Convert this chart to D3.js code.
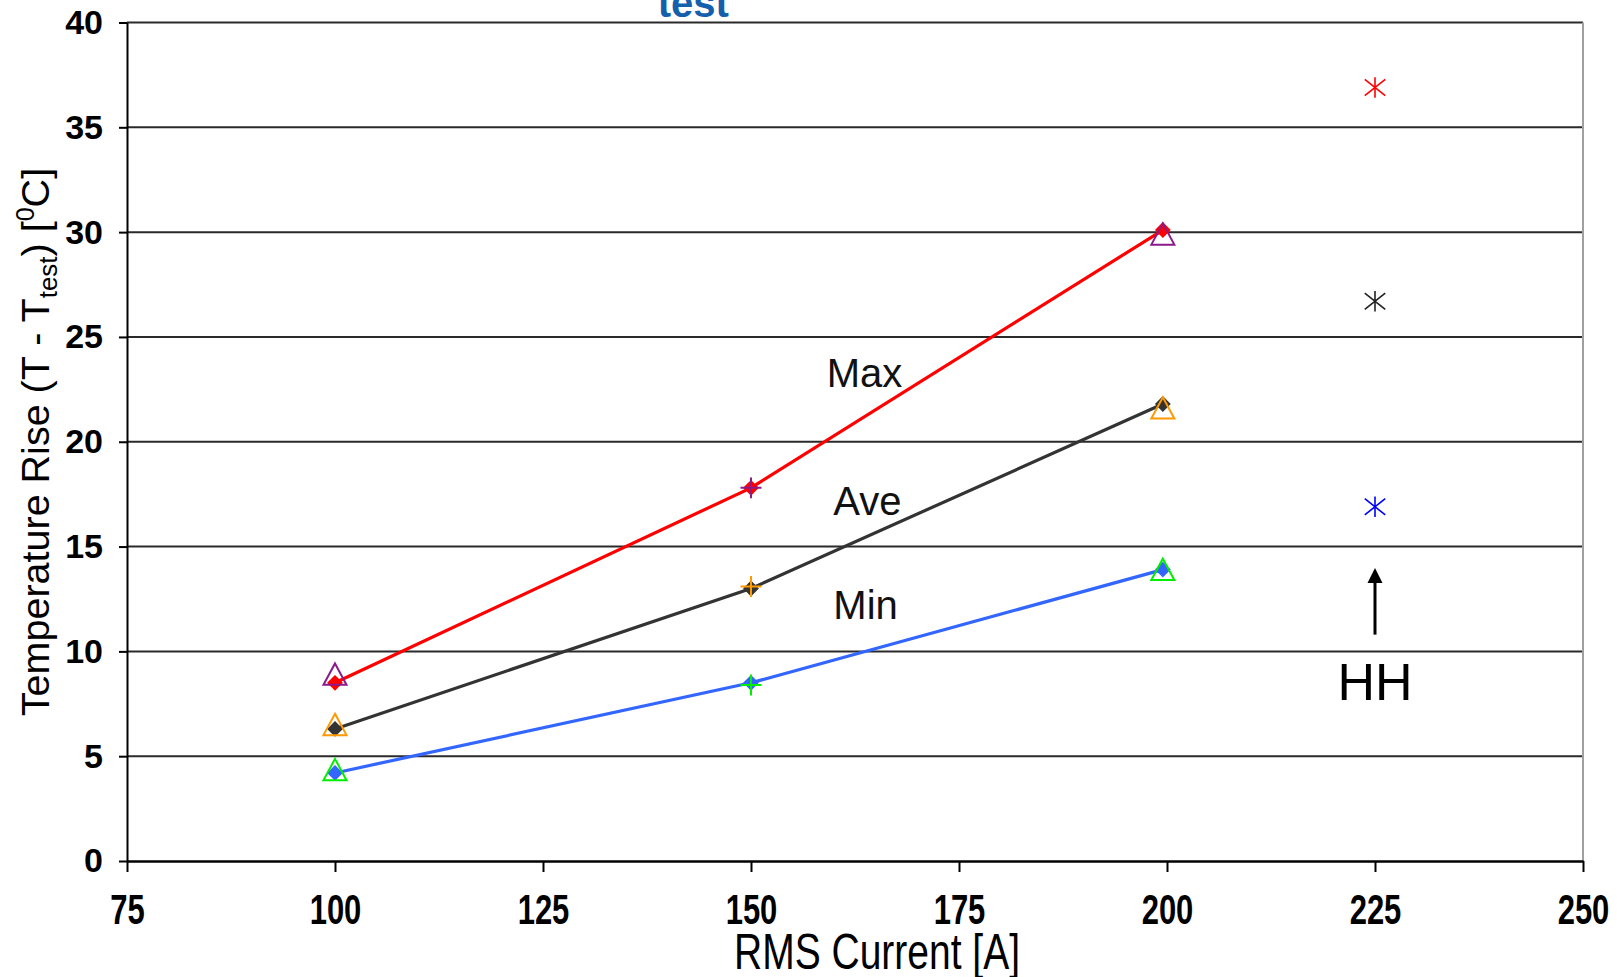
<!DOCTYPE html>
<html>
<head>
<meta charset="utf-8">
<script src="https://cdn.jsdelivr.net/npm/d3@7"></script>
<style>
  body { margin: 0; background: #fff; }
  svg { display: block; font-family: "Liberation Sans", Arial, sans-serif; }
</style>
</head>
<body>
<svg id="chart" width="1617" height="977"></svg>
<script>
//* Data
const currents = [100, 150, 199.5];
const maxRise = [8.5, 17.8, 30.1];
const aveRise = [6.3, 13.0, 21.8];
const minRise = [4.2, 8.5, 13.9];
// second set of measurements, open markers
const maxRise2 = [8.9, 17.8, 29.9];
const aveRise2 = [6.5, 13.1, 21.6];
const minRise2 = [4.35, 8.4, 13.9];
const markerShapes = ["triangle", "plus", "triangle"];
// HH points
const hhCurrent = 225;
const hhRise = [36.9, 26.7, 16.9];
const xTicks = [75, 100, 125, 150, 175, 200, 225, 250];
const yTicks = [0, 5, 10, 15, 20, 25, 30, 35, 40];
const seriesNames = ["Max", "Ave", "Min"];
const labelPos = [[159.1, 22.6], [159.9, 16.5], [159.9, 11.55]];
const hhArrow = [[225, 10.8], [225, 14.0]];
const hhLabelPos = [225, 7.7];

//* Chart area
const width = 1617;
const height = 977;
const margin = { top: 22.5, right: 34, bottom: 116, left: 127 };
const innerWidth = width - margin.left - margin.right;
const innerHeight = height - margin.top - margin.bottom;

const lineColors = ["#ff0000", "#333333", "#3366ff"];
const markColors = ["#8b1a8b", "#ff9900", "#00ee00"];
const hhColors = ["#ff0000", "#222222", "#0000ff"];

const svg = d3.select("#chart");

const x = d3.scaleLinear().domain([75, 250]).range([0, innerWidth]);
const y = d3.scaleLinear().domain([0, 40]).range([innerHeight, 0]);

// title (mostly cut off at top)
const title = svg.append("text")
  .attr("x", 621)
  .attr("y", -3)
  .attr("fill", "#1560ac")
  .attr("font-weight", "bold")
  .attr("font-size", "60px");
title.append("tspan").text("T");
title.append("tspan").attr("font-size", "40px").attr("dy", 20).text("test");
title.append("tspan").attr("dy", -20).text(" = 25 °C");

const g = svg.append("g")
  .attr("transform", `translate(${margin.left}, ${margin.top})`);

// gridlines
g.append("g")
  .selectAll("line")
  .data(yTicks.filter(d => d > 0))
  .join("line")
  .attr("x1", 0)
  .attr("x2", innerWidth)
  .attr("y1", d => y(d))
  .attr("y2", d => y(d))
  .attr("stroke", "#2a2a2a")
  .attr("stroke-width", 2);

// right border
g.append("line")
  .attr("x1", innerWidth).attr("x2", innerWidth)
  .attr("y1", 0).attr("y2", innerHeight)
  .attr("stroke", "#a0a0a0")
  .attr("stroke-width", 2);

// y axis
const yAxis = g.append("g")
  .call(d3.axisLeft(y).tickValues(yTicks).tickSize(8).tickSizeOuter(0).tickPadding(16));
yAxis.select(".domain").attr("stroke", "#000").attr("stroke-width", 2);
yAxis.selectAll(".tick line").attr("stroke", "#000").attr("stroke-width", 2);
yAxis.selectAll("text")
  .attr("font-family", "'Liberation Sans', Arial, sans-serif")
  .attr("font-size", "34px")
  .attr("font-weight", "bold")
  .attr("fill", "#000");

// x axis
const xAxis = g.append("g")
  .attr("transform", `translate(0, ${innerHeight})`)
  .call(d3.axisBottom(x).tickValues(xTicks).tickSize(11).tickSizeOuter(0));
xAxis.select(".domain").attr("stroke", "#000").attr("stroke-width", 2.5);
xAxis.selectAll(".tick line").attr("stroke", "#000").attr("stroke-width", 2);
xAxis.selectAll("text")
  .attr("font-family", "'Liberation Sans', Arial, sans-serif")
  .attr("font-size", "31px")
  .attr("font-weight", "bold")
  .attr("fill", "#000")
  .attr("y", 25)
  .attr("transform", "scale(1,1.35)");

// axis titles
svg.append("text")
  .attr("transform", "translate(877, 969) scale(1,1.3)")
  .attr("text-anchor", "middle")
  .attr("font-size", "39px")
  .attr("fill", "#000")
  .text("RMS Current [A]");

const yTitle = svg.append("text")
  .attr("transform", "translate(49, 442) rotate(-90)")
  .attr("text-anchor", "middle")
  .attr("font-size", "39.5px")
  .attr("fill", "#000");
yTitle.append("tspan").text("Temperature Rise (T - T");
yTitle.append("tspan").attr("font-size", "26px").attr("dy", 8).text("test");
yTitle.append("tspan").attr("dy", -8).text(") [");
yTitle.append("tspan").attr("font-size", "25px").attr("dy", -15).text("0");
yTitle.append("tspan").attr("dy", 15).text("C]");

//* Series
const series = [maxRise, aveRise, minRise].map((vals, i) => ({
  name: seriesNames[i],
  color: lineColors[i],
  mark: markColors[i],
  points: vals.map((v, j) => ({ x: currents[j], y: v })),
  points2: [maxRise2, aveRise2, minRise2][i].map((v, j) => ({ x: currents[j], y: v, shape: markerShapes[j] }))
}));

const line = d3.line().x(d => x(d.x)).y(d => y(d.y));

g.selectAll(".series-line")
  .data(series)
  .join("path")
  .attr("class", "series-line")
  .attr("d", d => line(d.points))
  .attr("fill", "none")
  .attr("stroke", d => d.color)
  .attr("stroke-width", 3.2);

// custom symbols
const triangleOpen = {
  draw(ctx, size) {
    const r = Math.sqrt(size) / 2;
    ctx.moveTo(0, -r);
    ctx.lineTo(r * 1.05, r * 0.95);
    ctx.lineTo(-r * 1.05, r * 0.95);
    ctx.closePath();
  }
};
const plusThin = {
  draw(ctx, size) {
    const r = Math.sqrt(size) / 2;
    ctx.moveTo(-r, 0); ctx.lineTo(r, 0);
    ctx.moveTo(0, -r); ctx.lineTo(0, r);
  }
};
const asterisk = {
  draw(ctx, size) {
    const r = Math.sqrt(size) / 2;
    ctx.moveTo(0, -r); ctx.lineTo(0, r);
    ctx.moveTo(-r, -r * 0.8); ctx.lineTo(r, r * 0.8);
    ctx.moveTo(-r, r * 0.8); ctx.lineTo(r, -r * 0.8);
  }
};
const diamondWide = {
  draw(ctx, size) {
    const r = Math.sqrt(size) / 2;
    ctx.moveTo(0, -r);
    ctx.lineTo(r, 0);
    ctx.lineTo(0, r);
    ctx.lineTo(-r, 0);
    ctx.closePath();
  }
};

// diamonds
series.forEach(s => {
  g.append("g")
    .selectAll("path")
    .data(s.points)
    .join("path")
    .attr("transform", d => `translate(${x(d.x)}, ${y(d.y)})`)
    .attr("d", d3.symbol().type(diamondWide).size(250)())
    .attr("fill", s.color);
});

// open markers (second set), drawn over the diamonds
series.forEach(s => {
  g.append("g")
    .selectAll("path")
    .data(s.points2)
    .join("path")
    .attr("transform", d => `translate(${x(d.x)}, ${y(d.y)})`)
    .attr("d", d => d3.symbol().type(d.shape === "triangle" ? triangleOpen : plusThin).size(d.shape === "triangle" ? 480 : 440)())
    .attr("fill", "none")
    .attr("stroke", s.mark)
    .attr("stroke-width", 2);
});

// HH asterisks
g.append("g")
  .selectAll("path")
  .data(hhRise)
  .join("path")
  .attr("transform", d => `translate(${x(hhCurrent)}, ${y(d)})`)
  .attr("d", d3.symbol().type(asterisk).size(420)())
  .attr("fill", "none")
  .attr("stroke", (d, i) => hhColors[i])
  .attr("stroke-width", 1.6);

// labels
g.selectAll(".series-label")
  .data(series)
  .join("text")
  .attr("class", "series-label")
  .attr("x", (d, i) => x(labelPos[i][0]))
  .attr("y", (d, i) => y(labelPos[i][1]))
  .attr("font-size", "40px")
  .attr("fill", "#111")
  .text(d => d.name);

// HH arrow + label
const defs = svg.append("defs");
defs.append("marker")
  .attr("id", "arrowhead")
  .attr("viewBox", "0 0 10 10")
  .attr("refX", 5).attr("refY", 5)
  .attr("markerWidth", 5).attr("markerHeight", 7)
  .attr("markerUnits", "strokeWidth")
  .attr("orient", "auto")
  .append("path")
  .attr("d", "M0,0 L10,5 L0,10 z")
  .attr("fill", "#000");

g.append("line")
  .attr("x1", x(hhArrow[0][0])).attr("y1", y(hhArrow[0][1]))
  .attr("x2", x(hhArrow[1][0])).attr("y2", y(hhArrow[1][1]) + 8)
  .attr("stroke", "#000")
  .attr("stroke-width", 3)
  .attr("marker-end", "url(#arrowhead)");

g.append("text")
  .attr("x", x(hhLabelPos[0]))
  .attr("y", y(hhLabelPos[1]))
  .attr("text-anchor", "middle")
  .attr("font-size", "52px")
  .attr("fill", "#000")
  .text("HH");
</script>
</body>
</html>
